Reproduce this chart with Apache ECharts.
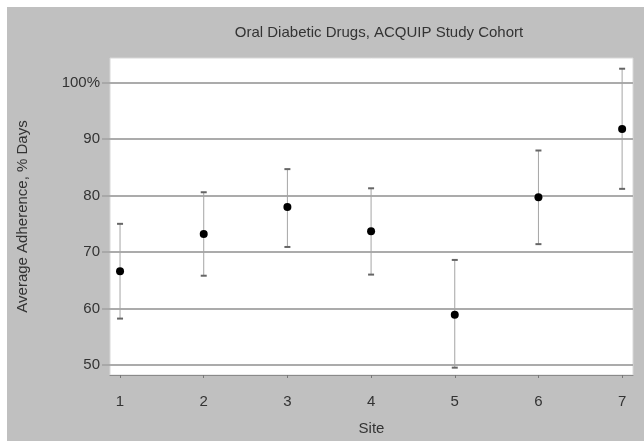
<!DOCTYPE html>
<html>
<head>
<meta charset="utf-8">
<script src="https://cdn.jsdelivr.net/npm/echarts@6/dist/echarts.min.js"></script>
<style>
  html, body { margin: 0; padding: 0; background: #fff; }
  #chart { position: absolute; left: 7px; top: 7px; width: 637px; height: 434px; }
</style>
</head>
<body>
<div id="chart"></div>
<script>
// sites and adherence (mean, lower, upper)
var sites = [1, 2, 3, 4, 5, 6, 7];
var means = [66.6, 73.2, 78.0, 73.7, 58.9, 79.7, 91.8];
var lows  = [58.2, 65.8, 70.9, 66.0, 49.5, 71.4, 81.2];
var highs = [75.0, 80.6, 84.7, 81.3, 68.6, 88.0, 102.5];
var yTicks = [50, 60, 70, 80, 90, 100];

var chart = echarts.init(document.getElementById('chart'));

var meanData = sites.map(function (s, i) { return [s, means[i]]; });
var barData = sites.map(function (s, i) { return [s, lows[i], highs[i]]; });

var font = 'Liberation Sans, Arial, sans-serif';

chart.setOption({
    backgroundColor: '#c0c0c0',
    animation: false,
    title: {
        text: 'Oral Diabetic Drugs, ACQUIP Study Cohort',
        left: 367, top: 13, textAlign: 'center',
        textStyle: { fontFamily: font, fontSize: 15, fontWeight: 'normal', color: '#333' }
    },
    grid: {
        left: 103, top: 51, right: 11, bottom: 63,
        show: true, backgroundColor: '#fff', borderColor: '#d8d8d8', borderWidth: 1
    },
    xAxis: {
        type: 'value', min: 0.88, max: 7.13,
        name: 'Site', nameLocation: 'middle', nameGap: 46,
        nameTextStyle: { fontFamily: font, fontSize: 15, color: '#333' },
        axisLine: { show: true, onZero: false, lineStyle: { color: '#8a8a8a', width: 1 } },
        axisTick: { show: true, length: 3, customValues: sites, lineStyle: { color: '#777' } },
        axisLabel: { customValues: sites, margin: 19, fontFamily: font, fontSize: 15, color: '#333' },
        splitLine: { show: false }
    },
    yAxis: {
        type: 'value', min: 48.2, max: 104.4,
        name: 'Average Adherence, % Days', nameLocation: 'middle', nameGap: 80,
        nameTextStyle: { fontFamily: font, fontSize: 15, color: '#333' },
        axisLine: { show: false },
        axisTick: { show: true, length: 8, customValues: yTicks, lineStyle: { color: '#a8a8a8', width: 2 } },
        axisLabel: {
            customValues: yTicks, margin: 10, fontFamily: font, fontSize: 15, color: '#333',
            formatter: function (v) { return v === 100 ? '100%' : String(v); }
        },
        splitLine: { show: true, lineStyle: { color: '#ababab', width: 2 } }
    },
    series: [
        {
            type: 'custom',
            data: barData,
            renderItem: function (params, api) {
                var x = api.value(0);
                var lo = api.coord([x, api.value(1)]);
                var hi = api.coord([x, api.value(2)]);
                var w = 3;
                return {
                    type: 'group',
                    children: [
                        { type: 'line', shape: { x1: lo[0], y1: lo[1], x2: hi[0], y2: hi[1] },
                          style: { stroke: '#a5a5a5', lineWidth: 1 } },
                        { type: 'line', shape: { x1: lo[0] - w, y1: lo[1], x2: lo[0] + w, y2: lo[1] },
                          style: { stroke: '#666', lineWidth: 2 } },
                        { type: 'line', shape: { x1: hi[0] - w, y1: hi[1], x2: hi[0] + w, y2: hi[1] },
                          style: { stroke: '#666', lineWidth: 2 } }
                    ]
                };
            },
            z: 2
        },
        {
            type: 'scatter',
            data: meanData,
            symbol: 'circle',
            symbolSize: 8,
            itemStyle: { color: '#000', opacity: 1 },
            z: 3
        }
    ]
});
</script>
</body>
</html>
